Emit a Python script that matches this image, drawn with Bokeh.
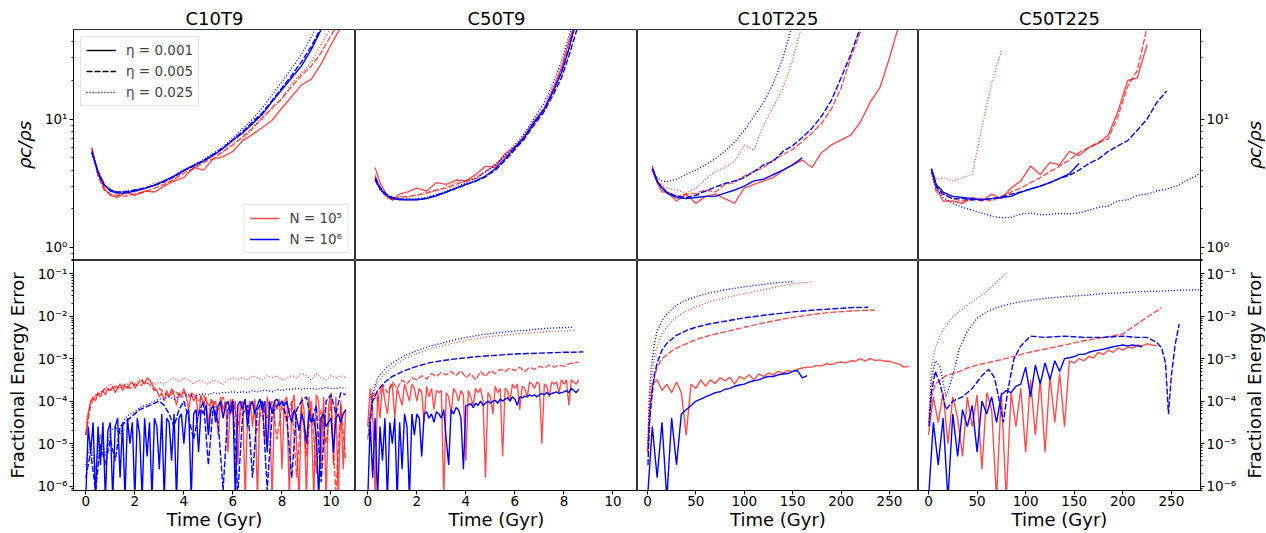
import math
import numpy as np
from bokeh.plotting import figure
from bokeh.layouts import gridplot
from bokeh.models import Range1d, FixedTicker, CustomJSTickFormatter, Legend, LegendItem
from bokeh.embed import file_html
from bokeh.resources import INLINE

FONT = "DejaVu Sans"

# ---------------- categories / labels ----------------
panel_titles = ["C10T9", "C50T9", "C10T225", "C50T225"]
eta_labels = ["η = 0.001", "η = 0.005", "η = 0.025"]
n_labels = ["N = 10⁵", "N = 10⁶"]
x_ticks_short = [0, 2, 4, 6, 8, 10]
x_ticks_long = [0, 50, 100, 150, 200, 250]
rho_major_ticks = [1.0, 10.0]
err_major_ticks = [1e-6, 1e-5, 1e-4, 1e-3, 1e-2, 1e-1]

# ---------------- top row: rho_c / rho_s ----------------
# C10T9
rho_t_c10t9 = [0.25, 0.5, 0.75, 1.0, 1.3, 1.6, 2.0, 2.4, 2.8, 3.2, 3.6, 4.0, 4.4, 4.8, 5.2, 5.6,
               6.0, 6.4, 6.8, 7.2, 7.6, 8.0, 8.4, 8.8, 9.2, 9.6, 10.0, 10.4]
rho_c10t9_n5_e1 = [5.8, 3.7, 2.9, 2.55, 2.45, 2.7, 2.55, 2.75, 2.7, 3.0, 3.3, 3.5, 4.2, 4.0, 4.9, 5.1, 5.6, 6.8, 7.6, 8.6, 9.8, 12.2, 15, 18.5, 20.5, 27, 38, 52]
rho_c10t9_n5_e5 = [6.0, 3.6, 2.8, 2.6, 2.55, 2.5, 2.6, 2.7, 2.9, 3.1, 3.4, 3.8, 4.1, 4.6, 4.9, 5.6, 6.3, 7.3, 8.5, 10.1, 12.3, 14.5, 18, 22, 26, 33, 45, 60]
rho_c10t9_n5_e25 = [5.9, 3.7, 3.0, 2.9, 2.6, 2.6, 2.7, 2.9, 3.2, 3.2, 3.3, 4.0, 4.1, 4.8, 5.3, 5.5, 6.6, 7.0, 8.4, 10.5, 12, 14.5, 19, 23, 28, 38, 52]
rho_c10t9_n6_e1 = [5.6, 3.9, 3.1, 2.75, 2.65, 2.65, 2.75, 2.87, 3.05, 3.3, 3.6, 4.0, 4.35, 4.7, 5.2, 5.9, 6.85, 7.8, 9.2, 10.9, 13.7, 17, 21, 26, 35, 50, 70]
rho_c10t9_n6_e5 = [5.5, 3.8, 3.05, 2.8, 2.7, 2.7, 2.8, 2.9, 3.05, 3.25, 3.55, 3.95, 4.3, 4.75, 5.3, 6.0, 6.9, 8.0, 9.5, 11.2, 14, 17.5, 22, 28, 37, 52, 75]
rho_c10t9_n6_e25 = [5.4, 3.9, 3.1, 2.8, 2.7, 2.75, 2.8, 2.9, 3.05, 3.3, 3.6, 4.0, 4.4, 4.85, 5.4, 6.1, 7.1, 8.4, 10.0, 12.2, 15.5, 19.5, 25, 32, 44, 62]

# C50T9
rho_t_c50t9 = [0.3, 0.5, 0.75, 1.0, 1.3, 1.6, 2.0, 2.4, 2.8, 3.2, 3.6, 4.0, 4.4, 4.8, 5.2, 5.6,
               6.0, 6.4, 6.8, 7.2, 7.6, 7.9, 8.2, 8.5, 8.8]
rho_c50t9_n5_e1 = [4.2, 3.2, 2.6, 2.35, 2.6, 2.7, 2.9, 2.75, 3.2, 3.1, 3.35, 3.3, 3.7, 4.3, 4.2, 5.4, 6.1, 7.5, 9.8, 12, 18, 25, 40, 60]
rho_c50t9_n5_e5 = [3.6, 2.9, 2.5, 2.35, 2.45, 2.5, 2.55, 2.65, 2.8, 2.9, 3.1, 3.3, 3.45, 3.9, 4.4, 5.1, 6.0, 7.1, 9.2, 12, 17.5, 24, 36, 55]
rho_c50t9_n5_e25 = [3.7, 2.8, 2.45, 2.3, 2.5, 2.45, 2.55, 2.7, 2.75, 3.0, 3.2, 3.25, 3.6, 3.85, 4.5, 5.2, 5.9, 7.3, 9.5, 12.8, 18.5, 26, 39, 58]
rho_c50t9_n6_e1 = [3.4, 2.85, 2.55, 2.4, 2.35, 2.35, 2.35, 2.4, 2.52, 2.7, 2.9, 3.1, 3.3, 3.6, 4.1, 4.9, 6.0, 7.3, 9.5, 12, 17, 23, 35, 60]
rho_c50t9_n6_e5 = [3.5, 2.95, 2.6, 2.45, 2.38, 2.36, 2.36, 2.42, 2.55, 2.7, 2.88, 3.08, 3.28, 3.55, 4.0, 4.75, 5.8, 7.1, 9.1, 11.5, 16, 21, 31, 48, 75]
rho_c50t9_n6_e25 = [3.3, 2.85, 2.55, 2.45, 2.4, 2.38, 2.4, 2.45, 2.58, 2.75, 2.95, 3.2, 3.45, 3.85, 4.4, 5.2, 6.3, 7.8, 10.2, 13.5, 20, 28, 44, 70]

# C10T225
rho_t_c10t225 = [5, 10, 15, 20, 30, 40, 50, 60, 70, 80, 90, 100, 110, 120, 130, 140, 150, 160,
                 170, 180, 190, 200, 210, 220, 230, 240, 250, 260]
rho_c10t225_n5_e1 = [4.0, 3.2, 2.7, 2.7, 2.3, 2.6, 2.2, 2.5, 2.6, 2.4, 2.2, 2.9, 3.1, 3.3, 3.5, 4.0, 4.4, 4.8, 4.2, 5.5, 6.3, 6.9, 7.5, 9.5, 13.5, 17.5, 30, 55]
rho_c10t225_n5_e5 = [4.3, 3.2, 3.0, 2.7, 2.5, 2.6, 2.65, 2.8, 2.7, 3.1, 3.2, 3.6, 3.9, 4.2, 4.8, 5.3, 5.8, 6.7, 7.8, 9.3, 12, 17.5, 30, 48]
rho_c10t225_n5_e25 = [4.3, 3.2, 3.1, 2.9, 2.8, 2.65, 2.9, 3.4, 3.9, 4.2, 4.7, 6.3, 5.7, 9.0, 12.5, 17.5, 29, 55]
rho_c10t225_n6_e1 = [4.1, 3.3, 2.9, 2.65, 2.45, 2.4, 2.45, 2.5, 2.5, 2.65, 2.8, 3.0, 3.3, 3.4, 3.7, 4.0, 4.4, 5.0]
rho_c10t225_n6_e5 = [4.1, 3.3, 2.9, 2.7, 2.5, 2.45, 2.55, 2.75, 2.95, 3.15, 3.3, 3.5, 3.9, 4.4, 4.7, 5.6, 6.2, 7.2, 8.5, 10.6, 14, 21, 32, 52]
rho_c10t225_n6_e25 = [4.1, 3.5, 3.3, 3.25, 3.4, 3.7, 4.0, 4.4, 4.9, 5.6, 6.6, 8.2, 10.5, 13.5, 19, 30, 55]

# C50T225
rho_t_c50t225 = [3, 8, 15, 25, 35, 45, 55, 65, 75, 85, 95, 105, 115, 125, 135, 145, 155, 165,
                 175, 185, 195, 205, 215, 225, 235, 245, 255, 265, 275, 280]
rho_c50t225_n5_e1 = [4.0, 2.9, 2.3, 2.3, 2.2, 2.45, 2.3, 2.6, 2.4, 2.9, 3.3, 4.3, 3.7, 4.6, 4.4, 5.6, 5.2, 6.0, 6.5, 7.5, 11.5, 20, 21, 38]
rho_c50t225_n5_e5 = [3.9, 2.7, 2.6, 2.4, 2.3, 2.35, 2.4, 2.3, 2.5, 2.7, 2.9, 3.2, 3.5, 3.9, 4.3, 4.8, 5.5, 6.0, 6.6, 7.0, 10.5, 18, 24, 52]
rho_c50t225_n5_e25 = [4.0, 3.4, 3.5, 3.3, 3.5, 3.7, 8.7, 19, 34]
rho_c50t225_n6_e1 = [4.1, 3.1, 2.7, 2.5, 2.45, 2.4, 2.35, 2.4, 2.45, 2.5, 2.7, 2.85, 3.0, 3.2, 3.45, 3.75, 4.5]
rho_c50t225_n6_e5 = [4.1, 3.0, 2.6, 2.4, 2.4, 2.35, 2.35, 2.4, 2.45, 2.6, 2.7, 2.85, 3.0, 3.2, 3.45, 3.65, 4.0, 4.5, 4.9, 5.6, 6.2, 6.8, 8.2, 10, 13.5, 16.5]
rho_c50t225_n6_e25 = [3.8, 2.9, 2.45, 2.2, 2.05, 1.95, 1.85, 1.75, 1.7, 1.72, 1.82, 1.85, 1.8, 1.8, 1.85, 1.82, 1.86, 1.95, 2.05, 2.1, 2.3, 2.35, 2.55, 2.6, 2.75, 2.85, 3.0, 3.3, 3.6, 3.8]

# ---------------- bottom row: fractional energy error (log10 values) ----------------
# C10T9
err_t_c10t9 = [0.0, 0.2, 0.4, 0.6, 0.8, 1.0, 1.2, 1.4, 1.6, 1.8, 2.0, 2.2, 2.4, 2.6, 2.8, 3.0, 3.2, 3.4,
               3.6, 3.8, 4.0, 4.2, 4.4, 4.6, 4.8, 5.0, 5.2, 5.4, 5.6, 5.8, 6.0, 6.2, 6.4, 6.6, 6.8, 7.0,
               7.2, 7.4, 7.6, 7.8, 8.0, 8.2, 8.4, 8.6, 8.8, 9.0, 9.2, 9.4, 9.6, 9.8, 10.0, 10.2, 10.4, 10.6]
err_tf_c10t9 = [0.0, 0.1, 0.2, 0.3, 0.4, 0.5, 0.6, 0.7, 0.8, 0.9, 1.0, 1.1, 1.2, 1.3, 1.4, 1.5, 1.6, 1.7, 1.8, 1.9,
                2.0, 2.1, 2.2, 2.3, 2.4, 2.5, 2.6, 2.7, 2.8, 2.9, 3.0, 3.1, 3.2, 3.3, 3.4, 3.5, 3.6, 3.7, 3.8, 3.9,
                4.0, 4.1, 4.2, 4.3, 4.4, 4.5, 4.6, 4.7, 4.8, 4.9, 5.0, 5.1, 5.2, 5.3, 5.4, 5.5, 5.6, 5.7, 5.8, 5.9,
                6.0, 6.1, 6.2, 6.3, 6.4, 6.5, 6.6, 6.7, 6.8, 6.9, 7.0, 7.1, 7.2, 7.3, 7.4, 7.5, 7.6, 7.7, 7.8, 7.9,
                8.0, 8.1, 8.2, 8.3, 8.4, 8.5, 8.6, 8.7, 8.8, 8.9, 9.0, 9.1, 9.2, 9.3, 9.4, 9.5, 9.6, 9.7, 9.8, 9.9,
                10.0, 10.1, 10.2, 10.3, 10.4, 10.5, 10.6]
err_c10t9_n5_e1 = [-4.8, -4.3, -4.0, -3.9, -4.0, -3.8, -3.9, -3.75, -3.85, -3.7, -3.75,
                   -3.65, -3.8, -3.7, -3.6, -3.75, -3.65, -3.7, -3.6, -3.55, -3.7,
                   -3.6, -3.55, -3.5, -3.6, -3.45, -3.5, -3.6, -3.7, -3.75, -3.9,
                   -3.8, -4.0, -3.75, -3.9, -3.7, -3.85, -4.1, -3.8, -3.9, -3.7,
                   -3.9, -4.2, -3.8, -4.0, -3.9, -4.4, -3.85, -4.1, -3.9, -4.6,
                   -3.95, -4.1, -4.0, -4.8, -3.9, -4.2, -4.0, -5.2, -3.95, -4.3,
                   -4.0, -5.5, -4.1, -4.0, -6.3, -4.2, -4.0, -4.6, -3.95, -6.3,
                   -4.1, -4.0, -5.0, -3.9, -4.3, -6.3, -4.0, -4.2, -3.95, -5.6,
                   -4.0, -3.9, -6.3, -4.1, -3.85, -5.0, -6.3, -3.9, -4.2, -6.3,
                   -3.9, -4.4, -6.3, -3.85, -4.0, -5.5, -3.9, -6.3, -4.1, -3.8,
                   -5.5, -3.9, -6.3, -4.0, -5.6, -4.2]
err_c10t9_n5_e5 = [-4.8, -4.1, -3.85, -3.8, -3.7, -3.75, -3.65, -3.7, -3.6, -3.7, -3.6, -3.65, -3.55, -3.6, -3.75, -3.7, -3.8, -3.9,
                   -3.75, -3.85, -3.8, -3.9, -3.8, -4.0, -3.85, -4.1, -4.0, -4.2, -3.9, -4.3, -3.95, -4.6, -4.0, -4.3, -4.0, -4.7,
                   -4.1, -4.4, -4.0, -4.9, -4.1, -4.5, -4.0, -5.8, -4.1, -5.3, -4.0, -5.7, -4.2, -5.0, -4.0, -6.2, -4.1, -5.4]
err_c10t9_n5_e25 = [-4.5, -4.0, -3.9, -3.8, -3.7, -3.6, -3.7, -3.6, -3.65, -3.55, -3.6, -3.5, -3.55, -3.5, -3.6, -3.55, -3.6, -3.5,
                    -3.45, -3.55, -3.45, -3.5, -3.6, -3.5, -3.55, -3.6, -3.5, -3.55, -3.6, -3.5, -3.45, -3.5, -3.45, -3.5, -3.4, -3.45,
                    -3.5, -3.4, -3.45, -3.4, -3.5, -3.45, -3.4, -3.45, -3.35, -3.4, -3.5, -3.35, -3.45, -3.5, -3.4, -3.45, -3.4, -3.45]
err_c10t9_n6_e1 = [-6.3, -4.6, -5.2, -4.5, -6.3, -4.6, -5.5, -4.5, -6.3, -4.7, -4.5,
                   -6.3, -4.6, -4.4, -5.8, -4.5, -6.3, -4.4, -5.0, -4.5, -6.3,
                   -4.4, -4.8, -6.3, -4.4, -5.3, -4.5, -6.3, -4.4, -4.6, -5.6,
                   -4.3, -6.3, -4.4, -4.5, -5.4, -4.3, -6.3, -4.4, -4.3, -5.0,
                   -4.3, -4.2, -6.3, -4.3, -4.2, -5.2, -4.2, -4.3, -4.1, -4.8,
                   -4.2, -4.1, -4.5, -4.1, -4.0, -4.4, -4.1, -4.0, -4.3, -4.0,
                   -6.3, -4.1, -4.0, -4.2, -3.95, -4.6, -4.1, -4.0, -4.3, -4.1,
                   -3.95, -4.2, -4.0, -5.2, -4.0, -4.3, -4.0, -3.95, -4.1, -4.0,
                   -4.1, -4.0, -4.3, -4.5, -4.2, -4.4, -4.7, -4.3, -4.5, -5.0,
                   -4.3, -4.5, -4.4, -4.8, -6.3, -4.4, -4.3, -4.6, -4.5, -4.4,
                   -5.2, -4.4, -4.3, -4.5, -4.3, -4.2]
err_c10t9_n6_e5 = [-5.8, -5.2, -6.1, -5.0, -5.5, -4.9, -5.4, -4.6, -4.5, -4.4, -4.3, -4.2, -4.15, -4.1, -4.05, -4.0, -4.1, -4.3,
                   -4.6, -4.2, -4.0, -4.4, -4.9, -4.3, -4.0, -5.5, -4.1, -4.5, -6.1, -4.2, -4.0, -6.2, -4.3, -4.1, -5.8, -4.2,
                   -4.0, -6.1, -4.3, -4.1, -4.0, -4.4, -5.8, -4.2, -4.0, -3.9, -4.5, -4.1, -5.9, -4.0, -3.85, -4.3, -3.8, -3.85]
err_c10t9_n6_e25 = [-5.5, -5.0, -5.6, -4.8, -5.3, -4.7, -4.6, -4.8, -4.4, -4.3, -4.25, -4.15, -4.1, -4.05, -4.0, -3.95, -3.95, -3.9,
                    -3.95, -3.9, -3.9, -3.85, -3.9, -3.85, -3.82, -3.85, -3.8, -3.82, -3.8, -3.8, -3.78, -3.8, -3.78, -3.8, -3.75, -3.78,
                    -3.75, -3.75, -3.78, -3.72, -3.75, -3.72, -3.72, -3.7, -3.72, -3.7, -3.7, -3.72, -3.7, -3.68, -3.7, -3.7, -3.68, -3.7]

# C50T9
err_t_c50t9 = [0.0, 0.2, 0.4, 0.6, 0.8, 1.0, 1.2, 1.4, 1.6, 1.8, 2.0, 2.2, 2.4, 2.6, 2.8, 3.0, 3.2, 3.4,
               3.6, 3.8, 4.0, 4.2, 4.4, 4.6, 4.8, 5.0, 5.2, 5.4, 5.6, 5.8, 6.0, 6.2, 6.4, 6.6, 6.8, 7.0,
               7.2, 7.4, 7.6, 7.8, 8.0, 8.2, 8.4, 8.6]
err_tf_c50t9 = [0.0, 0.1, 0.2, 0.3, 0.4, 0.5, 0.6, 0.7, 0.8, 0.9, 1.0, 1.1, 1.2, 1.3, 1.4, 1.5, 1.6, 1.7, 1.8, 1.9,
                2.0, 2.1, 2.2, 2.3, 2.4, 2.5, 2.6, 2.7, 2.8, 2.9, 3.0, 3.1, 3.2, 3.3, 3.4, 3.5, 3.6, 3.7, 3.8, 3.9,
                4.0, 4.1, 4.2, 4.3, 4.4, 4.5, 4.6, 4.7, 4.8, 4.9, 5.0, 5.1, 5.2, 5.3, 5.4, 5.5, 5.6, 5.7, 5.8, 5.9,
                6.0, 6.1, 6.2, 6.3, 6.4, 6.5, 6.6, 6.7, 6.8, 6.9, 7.0, 7.1, 7.2, 7.3, 7.4, 7.5, 7.6, 7.7, 7.8, 7.9,
                8.0, 8.1, 8.2, 8.3, 8.4, 8.5, 8.6]
err_ts_c50t9 = [0.05, 0.2, 0.4, 0.7, 1.0, 1.5, 2.0, 2.5, 3.0, 3.5, 4.0, 4.5, 5.0, 5.5, 6.0, 6.5, 7.0, 7.5, 8.0, 8.4, 8.8]
err_c50t9_n5_e1 = [-4.6, -3.7, -4.2, -6.3, -3.8, -4.4, -3.6, -4.0, -4.3, -3.7, -3.6,
                   -4.4, -3.7, -3.9, -4.1, -3.6, -3.8, -4.0, -3.6, -3.7, -4.0,
                   -3.7, -3.8, -4.5, -3.65, -3.9, -3.7, -4.2, -3.75, -3.8, -3.75,
                   -6.3, -3.8, -3.9, -4.3, -3.7, -3.8, -4.0, -3.75, -3.85, -5.4,
                   -3.75, -3.9, -4.1, -3.7, -3.8, -3.7, -4.0, -5.8, -3.8, -3.9,
                   -4.3, -3.65, -3.8, -3.7, -5.3, -3.7, -3.75, -4.0, -3.6, -3.7,
                   -3.6, -4.2, -3.65, -3.7, -3.9, -3.55, -3.6, -3.7, -3.55, -3.6,
                   -5.0, -3.6, -3.65, -3.9, -3.55, -3.6, -3.55, -3.8, -3.5, -3.6,
                   -3.5, -4.1, -3.5, -3.55, -3.6, -3.5]
err_c50t9_n5_e5 = [-4.9, -3.8, -4.0, -3.6, -3.8, -3.55, -3.7, -3.5, -3.6, -3.45, -3.5, -3.4, -3.48, -3.35, -3.42, -3.32, -3.38, -3.3,
                   -3.4, -3.28, -3.45, -3.35, -3.5, -3.3, -3.42, -3.28, -3.35, -3.25, -3.3, -3.22, -3.28, -3.2, -3.3, -3.2, -3.25, -3.18,
                   -3.22, -3.15, -3.2, -3.15, -3.18, -3.12, -3.1, -3.08]
err_c50t9_n5_e25 = [-4.5, -3.9, -3.55, -3.35, -3.2, -3.0, -2.88, -2.78, -2.7, -2.63, -2.57, -2.52, -2.48, -2.45, -2.42, -2.4, -2.38, -2.36, -2.35, -2.33]
err_c50t9_n6_e1 = [-6.3, -4.5, -5.8, -4.4, -6.3, -4.6, -5.4, -4.4, -6.3, -4.5, -5.0,
                   -4.4, -6.3, -4.5, -5.6, -4.3, -4.6, -6.3, -4.3, -4.8, -4.3,
                   -4.4, -5.3, -4.3, -4.25, -4.4, -4.3, -4.5, -4.25, -4.3, -4.4,
                   -4.2, -4.9, -5.5, -4.2, -4.3, -4.15, -4.2, -4.4, -5.6, -4.1,
                   -4.1, -4.05, -4.15, -4.05, -4.1, -4.0, -4.1, -4.05, -4.0, -4.05,
                   -4.0, -3.98, -4.05, -3.95, -4.0, -3.95, -3.92, -4.0, -3.9, -3.95,
                   -4.1, -3.9, -3.92, -3.88, -3.9, -3.85, -3.88, -3.85, -3.9, -3.85,
                   -3.82, -3.85, -3.8, -3.85, -3.82, -3.8, -3.78, -3.82, -3.8, -3.78,
                   -3.75, -3.8, -3.7, -3.75, -3.8, -3.72]
err_c50t9_n6_e5 = [-4.8, -4.0, -3.75, -3.55, -3.42, -3.28, -3.18, -3.1, -3.05, -3.01, -2.98, -2.95, -2.93, -2.91, -2.89, -2.88, -2.87, -2.86, -2.85, -2.85, -2.84]
err_c50t9_n6_e25 = [-4.6, -3.8, -3.45, -3.25, -3.1, -2.93, -2.81, -2.71, -2.64, -2.56, -2.5, -2.45, -2.41, -2.38, -2.35, -2.33, -2.3, -2.28, -2.27, -2.26]

# C10T225
err_t_c10t225 = [0, 5, 10, 15, 20, 25, 30, 35, 40, 45, 50, 55, 60, 65, 70, 75, 80, 85, 90, 95, 100, 105, 110,
                 115, 120, 125, 130, 135, 140, 145, 150, 155, 160, 165, 170, 175, 180, 185, 190, 195, 200,
                 205, 210, 215, 220, 225, 230, 235, 240, 245, 250, 255, 260, 265, 270]
err_ts_c10t225 = [0.5, 2, 4, 7, 10, 15, 20, 30, 40, 50, 65, 80, 100, 120, 135, 150, 170, 190, 210, 228, 235]
err_c10t225_n5_e1 = [-5.2, -3.6, -3.5, -3.75, -3.6, -3.8, -3.55, -3.8, -4.8, -3.6, -3.7, -3.5, -3.65, -3.5, -3.58, -3.45, -3.52, -3.44,
                     -3.6, -3.42, -3.48, -3.38, -3.5, -3.36, -3.42, -3.34, -3.38, -3.3, -3.34, -3.28, -3.3, -3.25, -3.22, -3.2, -3.2, -3.16,
                     -3.17, -3.12, -3.14, -3.1, -3.08, -3.1, -3.05, -3.06, -3.0, -3.06, -3.0, -3.04, -3.03, -3.06, -3.06, -3.1, -3.13, -3.2, -3.18]
err_c10t225_n5_e5 = [-5.2, -4.2, -3.8, -3.45, -3.2, -3.0, -2.9, -2.75, -2.65, -2.55, -2.45, -2.37, -2.26, -2.16, -2.09, -2.03, -1.96, -1.91, -1.88, -1.86, -1.86]
err_c10t225_n5_e25 = [-5.0, -4.0, -3.55, -3.0, -2.7, -2.42, -2.25, -2.02, -1.88, -1.78, -1.66, -1.57, -1.47, -1.38, -1.3, -1.24, -1.19]
err_c10t225_n6_e1 = [-6.3, -4.6, -5.8, -4.5, -6.3, -4.4, -5.5, -4.3, -4.2, -4.1, -4.0, -3.95, -3.9, -3.85, -3.8, -3.78, -3.72, -3.7,
                     -3.65, -3.62, -3.6, -3.55, -3.52, -3.5, -3.45, -3.42, -3.42, -3.38, -3.36, -3.35, -3.3, -3.28, -3.45, -3.4]
err_c10t225_n6_e5 = [-5.5, -4.5, -4.0, -3.4, -3.1, -2.8, -2.64, -2.45, -2.34, -2.26, -2.18, -2.12, -2.04, -1.98, -1.94, -1.9, -1.86, -1.83, -1.8, -1.79]
err_c10t225_n6_e25 = [-5.0, -3.8, -3.2, -2.65, -2.35, -2.1, -1.95, -1.74, -1.62, -1.54, -1.45, -1.38, -1.31, -1.25, -1.21, -1.19]

# C50T225
err_t_c50t225 = [0, 5, 10, 15, 20, 25, 30, 35, 40, 45, 50, 55, 60, 65, 70, 75, 80, 85, 90, 95, 100, 105, 110,
                 115, 120, 125, 130, 135, 140, 145, 150, 155, 160, 165, 170, 175, 180, 185, 190, 195, 200,
                 205, 210, 215, 220, 225, 230, 235]
err_ts_c50t225 = [0.5, 3, 7, 12, 18, 25, 32, 40, 50, 60, 70, 82, 95, 110, 125, 140, 160, 180, 200, 220, 240, 260, 280]
err_td_c50t225 = [0.5, 3, 7, 12, 18, 25, 35, 45, 55, 62, 68, 73, 77, 82, 88, 95, 105, 120, 140, 160, 180, 200,
                  215, 225, 235, 240, 244, 247, 250, 254, 258]
err_c50t225_n5_e1 = [-4.8, -3.9, -4.5, -3.8, -5.0, -3.9, -4.4, -5.3, -3.9, -4.6, -3.85, -5.6, -3.8, -4.2, -6.3, -3.8, -6.3, -3.8,
                     -4.6, -3.7, -5.2, -3.5, -4.8, -3.5, -5.2, -3.4, -4.5, -3.35, -4.6, -3.05, -3.1, -3.0, -3.05, -2.95, -2.98, -2.85,
                     -2.9, -2.8, -2.85, -2.75, -2.8, -2.72, -2.75, -2.68, -2.7, -2.65, -2.68, -2.7]
err_c50t225_n5_e5 = [-4.5, -3.9, -3.6, -3.5, -3.4, -3.35, -3.3, -3.22, -3.15, -3.1, -3.05, -2.98, -2.9, -2.82, -2.75, -2.68, -2.58, -2.5, -2.42, -2.1, -1.8]
err_c50t225_n5_e25 = [-4.3, -3.2, -2.75, -2.45, -2.22, -2.02, -1.88, -1.74, -1.58, -1.42, -1.2, -0.95]
err_c50t225_n6_e1 = [-6.3, -4.5, -5.5, -4.4, -6.3, -4.3, -5.3, -4.2, -4.6, -4.1, -5.2, -4.0, -4.3, -3.9, -4.5, -3.85, -3.75, -3.8,
                     -3.65, -3.6, -3.2, -3.9, -3.15, -3.6, -3.1, -3.5, -3.05, -3.3, -3.0, -2.98, -2.95, -2.9, -2.9, -2.85, -2.82, -2.8,
                     -2.78, -2.75, -2.72, -2.7, -2.68, -2.7, -2.68, -2.7, -2.72]
err_c50t225_n6_e5 = [-4.6, -3.8, -3.3, -3.6, -4.2, -4.0, -3.9, -3.7, -3.4, -3.25, -3.45, -4.0, -4.5, -3.7, -3.0, -2.7, -2.47, -2.5,
                     -2.47, -2.5, -2.5, -2.47, -2.5, -2.5, -2.62, -2.75, -3.1, -4.3, -3.4, -2.66, -2.19]
err_c50t225_n6_e25 = [-4.5, -3.5, -3.05, -3.2, -3.9, -3.4, -2.75, -2.35, -2.05, -1.9, -1.8, -1.72, -1.66, -1.61, -1.57, -1.54, -1.51, -1.47, -1.45, -1.42, -1.41, -1.39, -1.38]

# ---------------- assemble series (N index, eta index, times, values) ----------------
rho_series = [
    [(0, 0, rho_t_c10t9, rho_c10t9_n5_e1), (0, 1, rho_t_c10t9, rho_c10t9_n5_e5), (0, 2, rho_t_c10t9, rho_c10t9_n5_e25),
     (1, 0, rho_t_c10t9, rho_c10t9_n6_e1), (1, 1, rho_t_c10t9, rho_c10t9_n6_e5), (1, 2, rho_t_c10t9, rho_c10t9_n6_e25)],
    [(0, 0, rho_t_c50t9, rho_c50t9_n5_e1), (0, 1, rho_t_c50t9, rho_c50t9_n5_e5), (0, 2, rho_t_c50t9, rho_c50t9_n5_e25),
     (1, 0, rho_t_c50t9, rho_c50t9_n6_e1), (1, 1, rho_t_c50t9, rho_c50t9_n6_e5), (1, 2, rho_t_c50t9, rho_c50t9_n6_e25)],
    [(0, 0, rho_t_c10t225, rho_c10t225_n5_e1), (0, 1, rho_t_c10t225, rho_c10t225_n5_e5), (0, 2, rho_t_c10t225, rho_c10t225_n5_e25),
     (1, 0, rho_t_c10t225, rho_c10t225_n6_e1), (1, 1, rho_t_c10t225, rho_c10t225_n6_e5), (1, 2, rho_t_c10t225, rho_c10t225_n6_e25)],
    [(0, 0, rho_t_c50t225, rho_c50t225_n5_e1), (0, 1, rho_t_c50t225, rho_c50t225_n5_e5), (0, 2, rho_t_c50t225, rho_c50t225_n5_e25),
     (1, 0, rho_t_c50t225, rho_c50t225_n6_e1), (1, 1, rho_t_c50t225, rho_c50t225_n6_e5), (1, 2, rho_t_c50t225, rho_c50t225_n6_e25)],
]
err_series = [
    [(0, 0, err_tf_c10t9, err_c10t9_n5_e1), (0, 1, err_t_c10t9, err_c10t9_n5_e5), (0, 2, err_t_c10t9, err_c10t9_n5_e25),
     (1, 0, err_tf_c10t9, err_c10t9_n6_e1), (1, 1, err_t_c10t9, err_c10t9_n6_e5), (1, 2, err_t_c10t9, err_c10t9_n6_e25)],
    [(0, 0, err_tf_c50t9, err_c50t9_n5_e1), (0, 1, err_t_c50t9, err_c50t9_n5_e5), (0, 2, err_ts_c50t9, err_c50t9_n5_e25),
     (1, 0, err_tf_c50t9, err_c50t9_n6_e1), (1, 1, err_ts_c50t9, err_c50t9_n6_e5), (1, 2, err_ts_c50t9, err_c50t9_n6_e25)],
    [(0, 0, err_t_c10t225, err_c10t225_n5_e1), (0, 1, err_ts_c10t225, err_c10t225_n5_e5), (0, 2, err_ts_c10t225, err_c10t225_n5_e25),
     (1, 0, err_t_c10t225, err_c10t225_n6_e1), (1, 1, err_ts_c10t225, err_c10t225_n6_e5), (1, 2, err_ts_c10t225, err_c10t225_n6_e25)],
    [(0, 0, err_t_c50t225, err_c50t225_n5_e1), (0, 1, err_ts_c50t225, err_c50t225_n5_e5), (0, 2, err_ts_c50t225, err_c50t225_n5_e25),
     (1, 0, err_t_c50t225, err_c50t225_n6_e1), (1, 1, err_td_c50t225, err_c50t225_n6_e5), (1, 2, err_ts_c50t225, err_c50t225_n6_e25)],
]

# ---------------- style ----------------
N_COLORS = ["#ff0000", "#0000ff"]
N_ALPHA = [0.7, 1.0]
ETA_DASH = ["solid", "6 2", "1 2"]
LW = 1.4

X_RANGES = [(-0.5, 11.0), (-0.5, 11.0), (-10.3, 280.0), (-10.3, 280.0)]
FRAME_W = [282, 282, 281, 282]
FRAME_H = [231, 230]
Y_RANGES = [(0.79, 50.0), (7.9e-7, 0.204)]
TOP_BORDER = 29
BOTTOM_BORDER = 42
LEFT_BORDER = 73
RIGHT_TICK_BORDER = 40
RIGHT_LABEL_BORDER = 22

rho_minor = [0.8, 0.9] + [k * 1.0 for k in range(2, 10)] + [20.0, 30.0, 40.0]
err_minor = [k * 10.0 ** e for e in range(-7, 0) for k in range(2, 10)]

SUP_JS = r"""
const e = Math.round(Math.log10(tick));
const m = {"-": "\u207b", "0": "\u2070", "1": "\u00b9", "2": "\u00b2", "3": "\u00b3",
           "4": "\u2074", "5": "\u2075", "6": "\u2076", "7": "\u2077", "8": "\u2078", "9": "\u2079"};
let s = "";
for (const c of String(e)) { s += m[c]; }
return "10" + s;
"""


def style_axis(ax):
    ax.axis_line_color = "black"
    ax.major_tick_line_color = "black"
    ax.minor_tick_line_color = "black"
    ax.major_tick_out = 4
    ax.major_tick_in = 0
    ax.minor_tick_out = 2
    ax.minor_tick_in = 0
    ax.major_label_text_font = FONT
    ax.major_label_text_font_size = "13.5px"
    ax.major_label_text_color = "black"
    ax.major_label_standoff = 2
    ax.axis_label_text_font = FONT
    ax.axis_label_text_font_size = "18px"
    ax.axis_label_text_font_style = "normal"
    ax.axis_label_text_color = "black"


rows = []
for r in range(2):
    row = []
    for c in range(4):
        yloc = "left" if c == 0 else ("right" if c == 3 else None)
        p = figure(
            frame_width=FRAME_W[c], frame_height=FRAME_H[r],
            x_range=Range1d(*X_RANGES[c]), y_range=Range1d(*Y_RANGES[r]),
            y_axis_type="log",
            x_axis_location="below" if r == 1 else None,
            y_axis_location=yloc,
            title=panel_titles[c] if r == 0 else None,
            output_backend="svg", toolbar_location=None,
            min_border=0,
        )
        p.min_border_left = LEFT_BORDER if c == 0 else 0
        p.min_border_right = RIGHT_TICK_BORDER if c == 3 else 0
        p.min_border_top = TOP_BORDER if r == 0 else 0
        p.min_border_bottom = BOTTOM_BORDER if r == 1 else 0
        p.grid.visible = False
        p.outline_line_color = "#333333"
        p.outline_line_width = 1
        p.background_fill_color = "white"
        p.border_fill_color = "white"
        if r == 0:
            p.title.align = "center"
            p.title.text_font = FONT
            p.title.text_font_size = "18px"
            p.title.text_font_style = "normal"
            p.title.text_color = "black"
            p.title.standoff = 2
            p.title.offset = 0

        series = rho_series[c] if r == 0 else err_series[c]
        for (ni, ei, tt, vv) in sorted(series, key=lambda s: s[0]):
            n = min(len(tt), len(vv))
            xs = list(tt[:n])
            ys = list(vv[:n]) if r == 0 else [10.0 ** v for v in vv[:n]]
            p.line(xs, ys, line_color=N_COLORS[ni], line_alpha=N_ALPHA[ni],
                   line_width=LW, line_dash=ETA_DASH[ei])

        if r == 1:
            xa = p.xaxis[0]
            style_axis(xa)
            xa.major_tick_out = 4
            xa.major_label_standoff = 1
            xa.ticker = FixedTicker(ticks=x_ticks_short if c < 2 else x_ticks_long)
            xa.axis_label = "Time (Gyr)"
            xa.axis_label_standoff = 0
        if yloc is not None:
            ya = p.yaxis[0]
            style_axis(ya)
            ya.ticker = FixedTicker(ticks=rho_major_ticks if r == 0 else err_major_ticks,
                                    minor_ticks=rho_minor if r == 0 else err_minor)
            ya.formatter = CustomJSTickFormatter(code=SUP_JS)
            if c == 0:
                if r == 0:
                    ya.axis_label = "ρc/ρs"
                    ya.axis_label_text_font_style = "italic"
                else:
                    ya.axis_label = "Fractional Energy Error"
                ya.axis_label_standoff = 7

        if r == 0 and c == 0:
            eta_items = []
            for ei in range(3):
                g = p.line([-100.0, -99.0], [1.0, 1.0], line_color="black", line_width=LW, line_dash=ETA_DASH[ei])
                eta_items.append(LegendItem(label=eta_labels[ei], renderers=[g]))
            n_items = []
            for ni in range(2):
                g = p.line([-100.0, -99.0], [1.0, 1.0], line_color=N_COLORS[ni], line_alpha=N_ALPHA[ni], line_width=LW)
                n_items.append(LegendItem(label=n_labels[ni], renderers=[g]))
            for items, loc in ((eta_items, "top_left"), (n_items, "bottom_right")):
                lg = Legend(items=items, location=loc)
                lg.margin = 7
                lg.padding = 5
                lg.spacing = 5
                lg.glyph_width = 30
                lg.glyph_height = 16
                lg.label_standoff = 10
                lg.label_text_font = FONT
                lg.label_text_font_size = "13.5px"
                lg.label_height = 16
                lg.border_line_color = "#cccccc"
                lg.border_line_width = 1
                lg.background_fill_color = "white"
                lg.background_fill_alpha = 0.8
                p.add_layout(lg, "center")
        row.append(p)

    # extra narrow column that carries the right-hand axis label (reads bottom-to-top)
    q = figure(
        frame_width=1, frame_height=FRAME_H[r],
        x_range=Range1d(0, 1), y_range=Range1d(*Y_RANGES[r]), y_axis_type="log",
        x_axis_location=None, y_axis_location="left", title=None,
        output_backend="svg", toolbar_location=None, min_border=0,
    )
    q.min_border_left = RIGHT_LABEL_BORDER
    q.min_border_top = TOP_BORDER if r == 0 else 0
    q.min_border_bottom = BOTTOM_BORDER if r == 1 else 0
    q.grid.visible = False
    q.outline_line_color = None
    q.border_fill_color = "white"
    q.background_fill_color = "white"
    qa = q.yaxis[0]
    style_axis(qa)
    qa.ticker = FixedTicker(ticks=[])
    qa.axis_line_color = None
    qa.major_tick_out = 0
    qa.minor_tick_out = 0
    qa.major_label_standoff = 0
    qa.axis_label_standoff = 0
    if r == 0:
        qa.axis_label = "ρc/ρs"
        qa.axis_label_text_font_style = "italic"
    else:
        qa.axis_label = "Fractional Energy Error"
    row.append(q)
    rows.append(row)

grid = gridplot(rows, toolbar_location=None)

with open("out.html", "w", encoding="utf-8") as f:
    f.write(file_html(grid, INLINE))
